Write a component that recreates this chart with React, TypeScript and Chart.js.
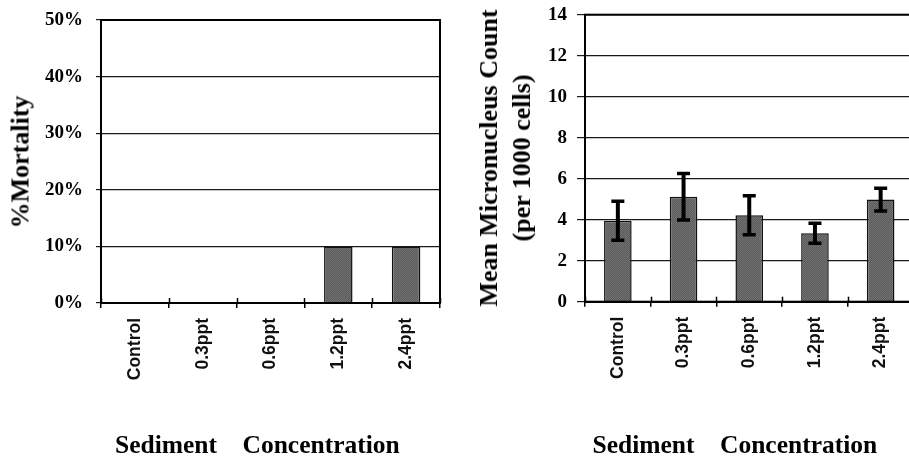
import React, { useEffect, useRef } from 'react';
import { Chart, registerables } from 'chart.js';

Chart.register(...registerables);

// ---------- data ----------
const categories = ['Control', '0.3ppt', '0.6ppt', '1.2ppt', '2.4ppt'];
const mortalityPct = [0, 0, 0, 10, 10];
const mortalityMax = 50;
const mortalityStep = 10;
const micronucleusMean = [3.95, 5.12, 4.22, 3.34, 4.98];
const micronucleusErr = [0.95, 1.13, 0.95, 0.49, 0.55];
const micronucleusMax = 14;
const micronucleusStep = 2;
const yTitleLeft = '%Mortality';
const yTitleRight = ['Mean Micronucleus Count', '(per 1000 cells)'];
const xTitle = 'Sediment    Concentration';

// ---------- styles ----------
const SERIF = "'Liberation Serif', 'Times New Roman', serif";
const SANS = "'Liberation Sans', Arial, sans-serif";
const tickFont = { family: SERIF, size: 19, weight: 'bold' as const };
const catFont = { family: SANS, size: 17.5, weight: 'bold' as const };

function makeFill(): CanvasPattern | string {
  const c = document.createElement('canvas');
  c.width = 2;
  c.height = 2;
  const g = c.getContext('2d');
  if (!g) return '#656565';
  g.fillStyle = '#5a5a5a';
  g.fillRect(0, 0, 2, 2);
  g.fillStyle = '#727272';
  g.fillRect(0, 0, 1, 1);
  g.fillRect(1, 1, 1, 1);
  const p = g.createPattern(c, 'repeat');
  return p || '#656565';
}

const framePlugin = {
  id: 'frame',
  afterDraw(chart: any) {
    const { ctx, chartArea: a } = chart;
    const xs = chart.scales.x;
    ctx.save();
    ctx.strokeStyle = '#000';
    ctx.lineWidth = 2;
    ctx.strokeRect(a.left, a.top, a.right - a.left, a.bottom - a.top);
    ctx.lineWidth = 1.5;
    const n = chart.data.labels.length;
    for (let i = 0; i <= n; i++) {
      const px = Math.round(xs.getPixelForValue(i - 0.5)) + 0.5;
      ctx.beginPath();
      ctx.moveTo(px, a.bottom - 5);
      ctx.lineTo(px, a.bottom);
      ctx.stroke();
    }
    ctx.restore();
  },
};

const errorBarPlugin = {
  id: 'errorBars',
  afterDatasetsDraw(chart: any, _args: any, opts: any) {
    const errs: number[] | undefined = opts && opts.errors;
    if (!errs) return;
    const meta = chart.getDatasetMeta(0);
    const ys = chart.scales.y;
    const vals = chart.data.datasets[0].data as number[];
    const ctx = chart.ctx;
    ctx.save();
    ctx.strokeStyle = '#000';
    ctx.lineWidth = 4;
    ctx.lineCap = 'butt';
    meta.data.forEach((bar: any, i: number) => {
      const top = ys.getPixelForValue(vals[i] + errs[i]);
      const bot = ys.getPixelForValue(vals[i] - errs[i]);
      ctx.beginPath();
      ctx.moveTo(bar.x, top);
      ctx.lineTo(bar.x, bot);
      ctx.stroke();
      ctx.lineWidth = 3.5;
      ctx.beginPath();
      ctx.moveTo(bar.x - 6.5, top);
      ctx.lineTo(bar.x + 6.5, top);
      ctx.moveTo(bar.x - 6.5, bot);
      ctx.lineTo(bar.x + 6.5, bot);
      ctx.stroke();
      ctx.lineWidth = 4;
    });
    ctx.restore();
  },
};

function buildConfig(opts: {
  data: number[];
  max: number;
  step: number;
  pct: boolean;
  yWidth: number;
  xHeight: number;
  padTop: number;
  padRight: number;
  tickLen: number;
  tickPad: number;
  errors?: number[];
}): any {
  return {
    type: 'bar',
    data: {
      labels: categories,
      datasets: [
        {
          data: opts.data,
          backgroundColor: makeFill(),
          borderColor: '#111',
          borderWidth: 1.5,
          borderSkipped: 'start',
          categoryPercentage: 1,
          barPercentage: 0.42,
        },
      ],
    },
    options: {
      responsive: false,
      animation: false,
      devicePixelRatio: 1,
      layout: { padding: { top: opts.padTop, right: opts.padRight, left: 0, bottom: 0 } },
      plugins: {
        legend: { display: false },
        tooltip: { enabled: false },
        title: { display: false },
        errorBars: { errors: opts.errors },
      },
      scales: {
        x: {
          type: 'category',
          offset: true,
          grid: {
            offset: true,
            drawOnChartArea: false,
            drawTicks: true,
            tickLength: 5,
            color: '#000',
            lineWidth: 1.5,
          },
          border: { display: true, color: '#000', width: 2 },
          ticks: {
            color: '#111',
            font: catFont,
            minRotation: 90,
            maxRotation: 90,
            padding: 10,
            autoSkip: false,
          },
          afterFit: (s: any) => {
            s.height = opts.xHeight;
            s.paddingLeft = 0;
            s.paddingRight = 0;
          },
        },
        y: {
          min: 0,
          max: opts.max,
          ticks: {
            stepSize: opts.step,
            color: '#000',
            font: tickFont,
            padding: opts.tickPad,
            callback: (v: any) => (opts.pct ? v + '%' : String(v)),
          },
          grid: {
            color: '#1a1a1a',
            lineWidth: 1.2,
            drawTicks: true,
            tickLength: opts.tickLen,
          },
          border: { display: true, color: '#000', width: 2 },
          afterFit: (s: any) => {
            s.width = opts.yWidth;
            s.paddingTop = 0;
            s.paddingBottom = 0;
          },
        },
      },
    },
    plugins: [errorBarPlugin, framePlugin],
  };
}

function BarCanvas(props: { width: number; height: number; config: () => any; style: React.CSSProperties }) {
  const ref = useRef<HTMLCanvasElement | null>(null);
  useEffect(() => {
    if (!ref.current) return;
    const chart = new Chart(ref.current, props.config());
    return () => chart.destroy();
  }, []);
  return <canvas ref={ref} width={props.width} height={props.height} style={props.style} />;
}

const titleBase: React.CSSProperties = {
  position: 'absolute',
  fontFamily: SERIF,
  fontWeight: 'bold',
  color: '#000',
  whiteSpace: 'pre',
};

export default function App() {
  return (
    <div
      style={{
        position: 'fixed',
        left: 0,
        top: 0,
        width: 909,
        height: 461,
        overflow: 'hidden',
        background: '#fff',
      }}
    >
      <BarCanvas
        width={460}
        height={461}
        style={{ position: 'absolute', left: 0, top: 0 }}
        config={() =>
          buildConfig({
            data: mortalityPct,
            max: mortalityMax,
            step: mortalityStep,
            pct: true,
            yWidth: 101,
            xHeight: 158,
            padTop: 20,
            padRight: 20,
            tickLen: 5,
            tickPad: 13,
          })
        }
      />
      <BarCanvas
        width={480}
        height={461}
        style={{ position: 'absolute', left: 460, top: 0 }}
        config={() =>
          buildConfig({
            data: micronucleusMean,
            max: micronucleusMax,
            step: micronucleusStep,
            pct: false,
            yWidth: 125,
            xHeight: 159.3,
            padTop: 14.7,
            padRight: 26.5,
            tickLen: 8,
            tickPad: 10,
            errors: micronucleusErr,
          })
        }
      />
      <div
        style={{
          ...titleBase,
          left: 19.5,
          top: 161.5,
          fontSize: 26,
          lineHeight: '31px',
          transform: 'translate(-50%, -50%) rotate(-90deg)',
        }}
      >
        {yTitleLeft}
      </div>
      <div
        style={{
          ...titleBase,
          left: 504.5,
          top: 158,
          fontSize: 26,
          lineHeight: '33px',
          textAlign: 'center',
          transform: 'translate(-50%, -50%) rotate(-90deg)',
        }}
      >
        {yTitleRight.map((t, i) => (
          <div key={i}>{t}</div>
        ))}
      </div>
      <div style={{ ...titleBase, left: 115, top: 430, fontSize: 25.5, lineHeight: '30px' }}>{xTitle}</div>
      <div style={{ ...titleBase, left: 592.5, top: 430, fontSize: 25.5, lineHeight: '30px' }}>{xTitle}</div>
    </div>
  );
}
